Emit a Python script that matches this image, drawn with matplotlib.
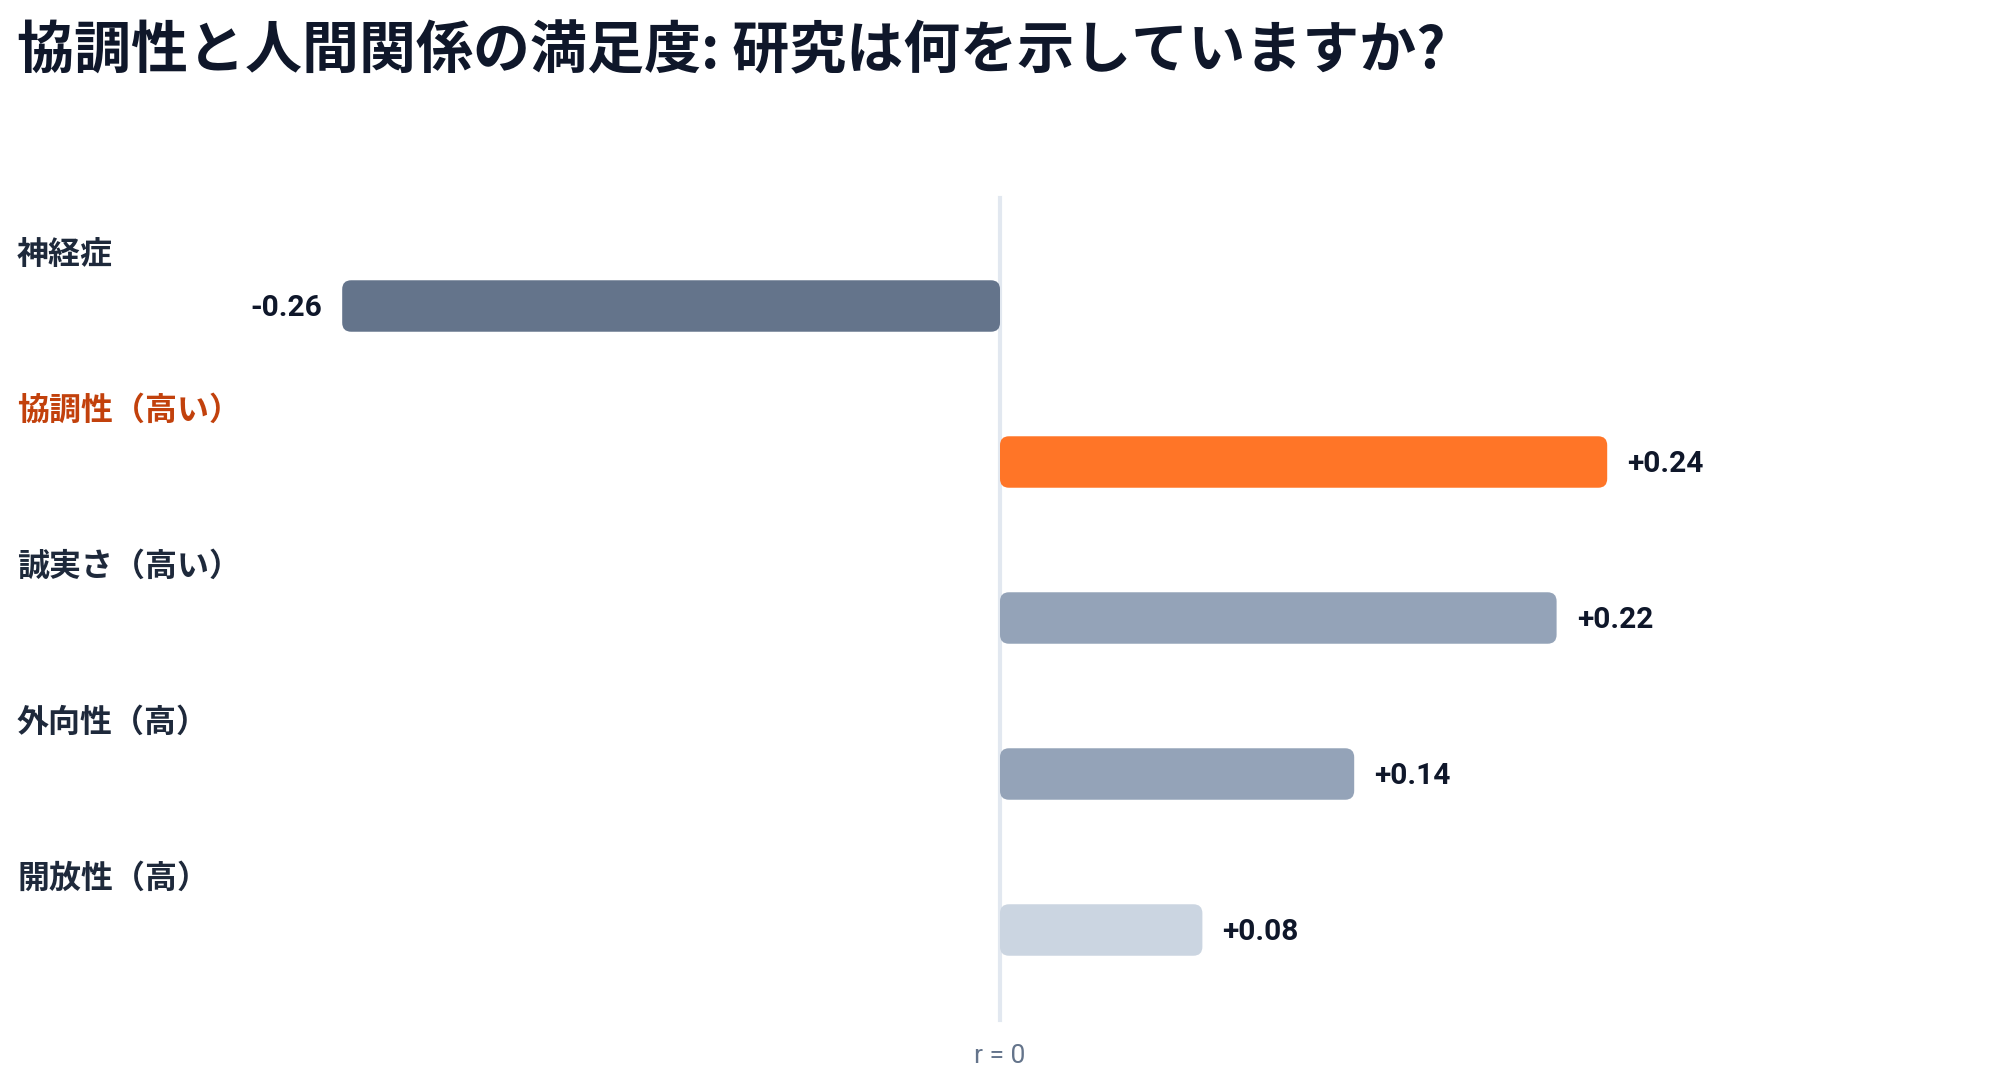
import matplotlib
matplotlib.use("Agg")
import matplotlib.pyplot as plt
from matplotlib.patches import FancyBboxPatch

# data
categories = ["神経症", "協調性（高い）", "誠実さ（高い）", "外向性（高）", "開放性（高）"]
values = [-0.26, 0.24, 0.22, 0.14, 0.08]
value_labels = ["-0.26", "+0.24", "+0.22", "+0.14", "+0.08"]
bar_colors = ["#64748b", "#ff7527", "#94a3b8", "#94a3b8", "#cbd5e1"]
label_colors = ["#1e293b", "#c2410c", "#1e293b", "#1e293b", "#1e293b"]
title = "協調性と人間関係の満足度: 研究は何を示していますか?"

W, H, DPI = 2000, 1080, 100
zero_px = 1000         # x pixel of r = 0
px_per_unit = 2530     # pixels per unit of r
row0_px, row_step = 306, 156
bar_h = 0.33

cjk = ["Noto Sans CJK JP", "DejaVu Sans"]
num = ["Roboto", "Noto Sans CJK JP", "DejaVu Sans"]

fig = plt.figure(figsize=(W / DPI, H / DPI), dpi=DPI)
ax = fig.add_axes([0, 0, 1, 1])
ax.set_xlim(-zero_px / px_per_unit, (W - zero_px) / px_per_unit)
ax.set_ylim((H - row0_px) / row_step, -row0_px / row_step)
ax.axis("off")

# zero line
ax.axvline(0, ymin=1 - 1020 / H, ymax=1 - 198 / H, color="#e2e8f0", lw=3, zorder=1)

# rounded bars
radius_px = 9
aspect = px_per_unit / row_step
for i, (v, c) in enumerate(zip(values, bar_colors)):
    x0 = min(0, v)
    p = FancyBboxPatch((x0, i - bar_h / 2), abs(v), bar_h,
                       boxstyle=f"round,pad=0,rounding_size={radius_px / px_per_unit}",
                       mutation_aspect=aspect, fc=c, ec="none", zorder=2)
    ax.add_patch(p)
    off = 14.5 if v >= 0 else -14.5
    ax.annotate(value_labels[i], (v, i), xytext=(off, -1.5), textcoords="offset points",
                ha="left" if v >= 0 else "right", va="center",
                fontsize=21.5, fontweight="bold", color="#0f172a", family=num)

# category labels
for i, (lab, c) in enumerate(zip(categories, label_colors)):
    ax.text(17 / W, i - 51 / row_step, lab, transform=ax.get_yaxis_transform(),
            ha="left", va="center", fontsize=23, fontweight="bold", color=c, family=cjk)

ax.text(0, 1 - 1056 / H, "r = 0", transform=ax.get_xaxis_transform(),
        ha="center", va="center", fontsize=19, color="#64748b", family=num)

fig.text(17 / W, 1 - 51 / H, title, ha="left", va="center",
         fontsize=41, fontweight="bold", color="#0f172a", family=cjk)

fig.savefig("out.png", dpi=DPI, facecolor="white")
